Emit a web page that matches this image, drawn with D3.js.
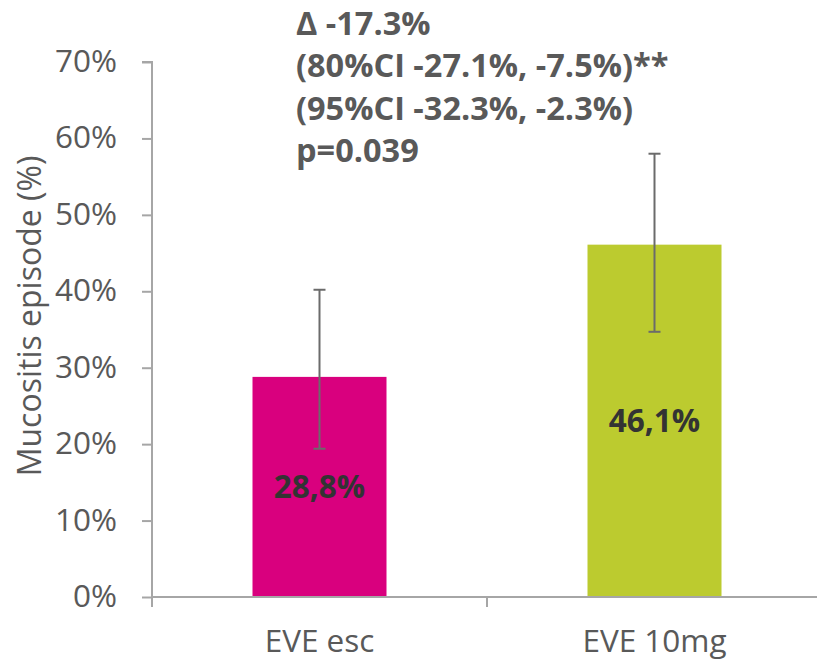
<!DOCTYPE html>
<html>
<head>
<meta charset="utf-8">
<script src="https://cdn.jsdelivr.net/npm/d3@7"></script>
<style>
  html, body { margin: 0; padding: 0; background: #fff; }
  svg { display: block; font-family: "Open Sans", Lato, sans-serif; }
</style>
</head>
<body>
<svg id="chart" width="817" height="661"></svg>
<script>
// Mucositis episodes by treatment arm
const categories = ["EVE esc", "EVE 10mg"];
const values = [28.8, 46.1];
const valueLabels = ["28,8%", "46,1%"];
const errLow = [19.4, 34.7];
const errHigh = [40.2, 58.0];
const barColors = ["#D9007E", "#BCCB2F"];
const yTicks = [0, 10, 20, 30, 40, 50, 60, 70];
const annotation = [
  "\u0394 -17.3%",
  "(80%CI -27.1%, -7.5%)**",
  "(95%CI -32.3%, -2.3%)",
  "p=0.039"
];
const yTitle = "Mucositis episode (%)";

const svg = d3.select("#chart");
const plotLeft = 152, plotRight = 822, plotTop = 62, plotBottom = 597;

const x = d3.scaleBand().domain(categories).range([plotLeft, plotRight]).paddingInner(0).paddingOuter(0);
const y = d3.scaleLinear().domain([0, 70]).range([plotBottom, plotTop]);

const axisColor = "#A6A6A6";
const textColor = "#595959";
const fontStack = "'Open Sans', Lato, sans-serif";
const fontSize = 31.5;

// Bars
const barW = x.bandwidth() * 0.4;
svg.append("g").selectAll("rect").data(categories).join("rect")
  .attr("x", (d) => x(d) + (x.bandwidth() - barW) / 2)
  .attr("y", (d, i) => y(values[i]))
  .attr("width", barW)
  .attr("height", (d, i) => y(0) - y(values[i]))
  .attr("fill", (d, i) => barColors[i]);

// Y axis
const yAxis = svg.append("g").attr("transform", `translate(${plotLeft},0)`)
  .call(d3.axisLeft(y).tickValues(yTicks).tickFormat(d => d + "%").tickSize(10).tickPadding(25));
yAxis.select(".domain").attr("stroke", axisColor).attr("stroke-width", 2)
  .attr("d", `M-10,${plotTop}H0V${plotBottom + 10}`);
yAxis.selectAll(".tick line").attr("stroke", axisColor).attr("stroke-width", 2);
yAxis.selectAll(".tick text").attr("fill", textColor).attr("font-size", fontSize)
  .attr("font-family", fontStack).attr("dy", "0.3em");

// X axis
const xAxis = svg.append("g").attr("transform", `translate(0,${plotBottom})`)
  .call(d3.axisBottom(x).tickSize(0));
xAxis.select(".domain").attr("stroke", axisColor).attr("stroke-width", 2)
  .attr("d", `M${plotLeft},0H${plotRight}`);
xAxis.selectAll(".tick text").attr("fill", textColor).attr("font-size", fontSize)
  .attr("font-family", fontStack)
  .attr("y", 55).attr("dy", 0);
// category boundary ticks
svg.append("g").selectAll("line").data(categories.slice(1)).join("line")
  .attr("x1", d => x(d)).attr("x2", d => x(d))
  .attr("y1", plotBottom).attr("y2", plotBottom + 10)
  .attr("stroke", axisColor).attr("stroke-width", 2);

// Y title
svg.append("text")
  .attr("transform", `translate(41,316) rotate(-90)`)
  .attr("text-anchor", "middle")
  .attr("fill", textColor).attr("font-size", 32)
  .text(yTitle);

// Error bars
const errColor = "#6B6B6B";
const eg = svg.append("g");
categories.forEach((c, i) => {
  const cx = x(c) + x.bandwidth() / 2;
  eg.append("line").attr("x1", cx).attr("x2", cx)
    .attr("y1", y(errLow[i])).attr("y2", y(errHigh[i]))
    .attr("stroke", errColor).attr("stroke-width", 2);
  [errLow[i], errHigh[i]].forEach(v => {
    eg.append("line").attr("x1", cx - 6).attr("x2", cx + 6)
      .attr("y1", y(v)).attr("y2", y(v))
      .attr("stroke", errColor).attr("stroke-width", 2);
  });
});

// Value labels inside bars
svg.append("g").selectAll("text").data(categories).join("text")
  .attr("x", d => x(d) + x.bandwidth() / 2)
  .attr("y", (d, i) => y(values[i] / 2))
  .attr("dy", "0.36em")
  .attr("text-anchor", "middle")
  .attr("font-weight", "bold").attr("font-size", 31.5)
  .attr("fill", "#333333")
  .text((d, i) => valueLabels[i]);

// Difference annotation
svg.append("g").selectAll("text").data(annotation).join("text")
  .attr("x", 296)
  .attr("y", (d, i) => 34.5 + i * 42.5)
  .attr("font-weight", "bold").attr("font-size", 32.5)
  .attr("fill", textColor)
  .text(d => d);
</script>
</body>
</html>
